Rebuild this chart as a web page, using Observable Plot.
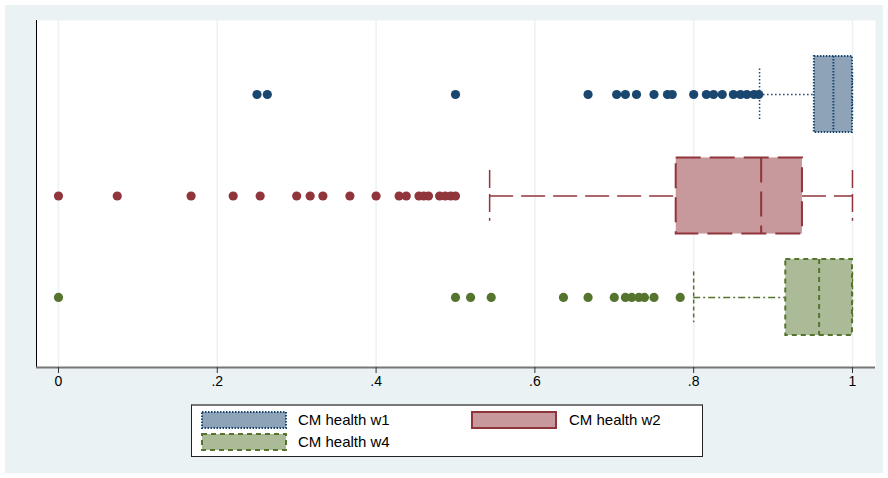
<!DOCTYPE html>
<html>
<head>
<meta charset="utf-8">
<script src="https://cdn.jsdelivr.net/npm/d3@7"></script>
<script src="https://cdn.jsdelivr.net/npm/@observablehq/plot@0.6"></script>
<style>
  html, body { margin: 0; padding: 0; background: #ffffff; }
  #wrap { position: relative; width: 888px; height: 478px; overflow: hidden; background: #ffffff; }
  #bg { position: absolute; left: 5px; top: 5px; width: 878px; height: 468px; background: #eaf2f3; }
  #chart { position: absolute; left: 0; top: 0; }
  #legend { position: absolute; left: 191px; top: 404px; width: 512px; height: 53px; box-sizing: border-box;
            background: #ffffff; border: 1px solid #222; border-top: 2px solid #777;
            font-family: "Liberation Sans", Arial, sans-serif; font-size: 15px; color: #000; }
  .sw { position: absolute; }
  .lt { position: absolute; line-height: 17px; }
</style>
</head>
<body>
<div id="wrap">
  <div id="bg"></div>
  <div id="chart"></div>
  <div id="legend"></div>
</div>
<script>
// ---- data ----
const series = ["CM health w1", "CM health w2", "CM health w4"];
const lowerWhisker = [0.883, 0.543, 0.800];
const q1 = [0.952, 0.778, 0.916];
const median = [0.976, 0.885, 0.958];
const q3 = [1.0, 0.937, 1.0];
const upperWhisker = [1.0, 1.0, 1.0];
const outliersW1 = [0.25, 0.263, 0.5, 0.667, 0.703, 0.714, 0.728, 0.75, 0.767, 0.773, 0.8, 0.816, 0.825, 0.836, 0.85, 0.859, 0.867, 0.876, 0.882];
const outliersW2 = [0, 0.074, 0.167, 0.22, 0.254, 0.30, 0.317, 0.333, 0.367, 0.40, 0.429, 0.438, 0.454, 0.46, 0.466, 0.48, 0.487, 0.494, 0.50];
const outliersW4 = [0, 0.50, 0.519, 0.545, 0.636, 0.667, 0.70, 0.714, 0.722, 0.731, 0.738, 0.75, 0.783];
const xTicks = [0, 0.2, 0.4, 0.6, 0.8, 1];
const xTickLabels = ["0", ".2", ".4", ".6", ".8", "1"];

// ---- styles ----
const lineColors = ["#1a476f", "#90353b", "#55752f"];
const fillColors = ["#8fa3b8", "#c8999c", "#abbb97"];
const whiskerDash = ["1.5,2.5", "24,8", "7,3,2,3"];
const boxDash = ["1.5,1.5", "25,9", "5,4"];
const capDash = ["1.5,2", "18,6", "4,3"];
const legendDash = ["1.5,1.5", "none", "5,4"];
const outliers = [outliersW1, outliersW2, outliersW4];

const xDomain = [-0.0277, 1.029];
const yDomain = [0.271, 3.69];
const halfBox = 0.375, halfCap = 0.25;

const marks = [
  Plot.frame({fill: "white", stroke: "none"}),
  Plot.ruleX(xTicks, {stroke: "#eaf2f3", strokeWidth: 1.5})
];

series.forEach((s, i) => {
  const row = i + 1;
  const d = [{row, lw: lowerWhisker[i], q1: q1[i], med: median[i], q3: q3[i], uw: upperWhisker[i]}];
  const col = lineColors[i];
  // whiskers
  marks.push(Plot.ruleY(d, {y: "row", x1: "lw", x2: "q1", stroke: col, strokeWidth: 1.5, strokeDasharray: whiskerDash[i]}));
  marks.push(Plot.ruleY(d, {y: "row", x1: "q3", x2: "uw", stroke: col, strokeWidth: 1.5, strokeDasharray: whiskerDash[i]}));
  // caps
  marks.push(Plot.ruleX(d, {x: "lw", y1: r => r.row - halfCap, y2: r => r.row + halfCap, stroke: col, strokeWidth: 1.5, strokeDasharray: capDash[i]}));
  marks.push(Plot.ruleX(d, {x: "uw", y1: r => r.row - halfCap, y2: r => r.row + halfCap, stroke: col, strokeWidth: 1.5, strokeDasharray: capDash[i]}));
  // box
  marks.push(Plot.rect(d, {x1: "q1", x2: "q3", y1: r => r.row - halfBox, y2: r => r.row + halfBox,
    fill: fillColors[i], stroke: col, strokeWidth: 2, strokeDasharray: boxDash[i]}));
  // median
  marks.push(Plot.ruleX(d, {x: "med", y1: r => r.row - halfBox, y2: r => r.row + halfBox, stroke: col, strokeWidth: 2, strokeDasharray: boxDash[i]}));
  // outliers
  marks.push(Plot.dot(outliers[i], {x: v => v, y: () => row, r: 4.6, fill: col, stroke: "none"}));
});

marks.push(Plot.ruleX([xDomain[0]], {stroke: "black", strokeWidth: 1}));
marks.push(Plot.ruleY([yDomain[1]], {stroke: "#777777", strokeWidth: 2}));
marks.push(Plot.axisX({ticks: xTicks, tickFormat: v => xTickLabels[xTicks.indexOf(v)], tickSize: 6, tickPadding: 3, stroke: "#333", fill: "black"}));

const chart = Plot.plot({
  width: 888,
  height: 400,
  marginLeft: 36,
  marginRight: 13,
  marginTop: 20,
  marginBottom: 33,
  x: {domain: xDomain},
  y: {domain: yDomain, reverse: true, axis: null},
  style: {background: "transparent", fontFamily: "'Liberation Sans', Arial, sans-serif", fontSize: "14px", color: "black"},
  marks
});
document.getElementById("chart").appendChild(chart);

// ---- legend ----
const legend = document.getElementById("legend");
const pos = [
  {sx: 9, sy: 5, tx: 106},
  {sx: 279, sy: 5, tx: 377},
  {sx: 9, sy: 27, tx: 106}
];
series.forEach((s, i) => {
  const p = pos[i];
  const svg = document.createElementNS("http://www.w3.org/2000/svg", "svg");
  svg.setAttribute("width", 86); svg.setAttribute("height", 18);
  svg.setAttribute("class", "sw");
  svg.style.left = p.sx + "px"; svg.style.top = p.sy + "px";
  const r = document.createElementNS("http://www.w3.org/2000/svg", "rect");
  r.setAttribute("x", 1); r.setAttribute("y", 1); r.setAttribute("width", 84); r.setAttribute("height", 16);
  r.setAttribute("fill", fillColors[i]); r.setAttribute("stroke", lineColors[i]);
  r.setAttribute("stroke-width", 2);
  if (legendDash[i] !== "none") r.setAttribute("stroke-dasharray", legendDash[i]);
  svg.appendChild(r);
  legend.appendChild(svg);
  const t = document.createElement("div");
  t.className = "lt"; t.textContent = s;
  t.style.left = p.tx + "px"; t.style.top = (p.sy + 0) + "px";
  legend.appendChild(t);
});
</script>
</body>
</html>
